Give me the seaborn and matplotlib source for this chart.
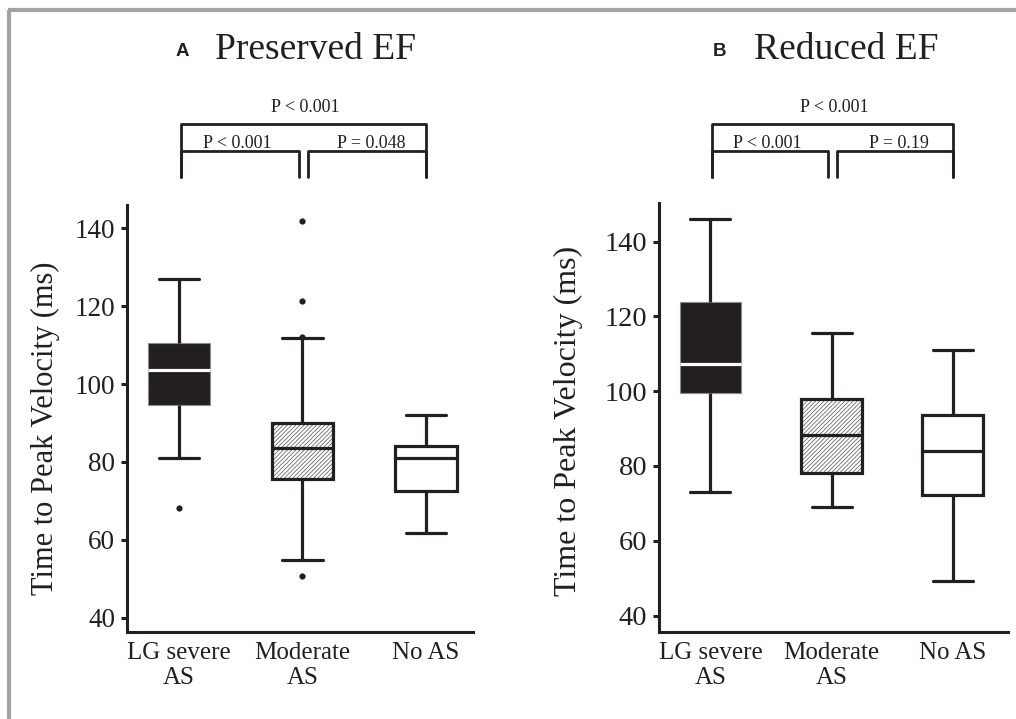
import pandas as pd
import matplotlib.pyplot as plt
import matplotlib.transforms as mtransforms
from matplotlib.lines import Line2D
from matplotlib.patches import PathPatch
import seaborn as sns

groups = ["LG severe\nAS", "Moderate\nAS", "No AS"]

# Preserved EF: whisker low, Q1, median, Q3, whisker high (ms)
pres_low = [81.1, 54.8, 61.7]
pres_q1 = [94.6, 75.6, 72.5]
pres_med = [103.7, 83.5, 81.1]
pres_q3 = [110.5, 89.9, 84.1]
pres_high = [127.0, 111.8, 92.0]
pres_out_group = ["LG severe\nAS", "Moderate\nAS", "Moderate\nAS", "Moderate\nAS", "Moderate\nAS"]
pres_out_val = [68.1, 141.9, 121.4, 112.2, 50.6]

# Reduced EF
red_low = [73.1, 69.0, 49.2]
red_q1 = [99.5, 78.2, 72.2]
red_med = [107.3, 88.4, 84.0]
red_q3 = [123.8, 98.0, 93.7]
red_high = [146.1, 115.6, 111.1]
red_out_group = []
red_out_val = []

titles = ["Preserved EF", "Reduced EF"]
letters = ["A", "B"]
p_all = ["P < 0.001", "P < 0.001"]
p_left = ["P < 0.001", "P < 0.001"]
p_right = ["P = 0.048", "P = 0.19"]

ink = "#231f20"
box_fill = ["#231f20", "white", "white"]

W, H = 1016, 719


def fx(px):
    return px / W


def fy(py):
    return 1 - py / H


def five_num(low, q1, med, q3, high):
    rows = []
    for g, vals in zip(groups, zip(low, q1, med, q3, high)):
        for v in vals:
            rows.append({"group": g, "value": v})
    return pd.DataFrame(rows)


sns.set_theme(style="ticks")
plt.rcParams["font.family"] = ["Liberation Serif", "DejaVu Serif"]
plt.rcParams["hatch.linewidth"] = 0.55

fig = plt.figure(figsize=(W / 100, H / 100), dpi=100)
fig.patch.set_facecolor("white")

panels = [
    dict(rect=[fx(127), fy(632), (473 - 127) / W, (632 - 205) / H],
         box=five_num(pres_low, pres_q1, pres_med, pres_q3, pres_high),
         out=pd.DataFrame({"group": pres_out_group, "value": pres_out_val}),
         ylim=(36.3, 146.0), xlim=(-0.42, 2.38), tick_fs=19.5, label_fs=22,
         label_xy=(-0.194, 0.476), title_x=215, letter_x=182),
    dict(rect=[fx(659), fy(632), (1008 - 659) / W, (632 - 203) / H],
         box=five_num(red_low, red_q1, red_med, red_q3, red_high),
         out=pd.DataFrame({"group": red_out_group, "value": red_out_val}),
         ylim=(35.6, 150.3), xlim=(-0.425, 2.457), tick_fs=20.5, label_fs=23,
         label_xy=(-0.218, 0.492), title_x=754, letter_x=720),
]

for i, p in enumerate(panels):
    ax = fig.add_axes(p["rect"])
    sns.boxplot(data=p["box"], x="group", y="value", hue="group",
                order=groups, hue_order=groups, palette=box_fill, saturation=1,
                width=0.5, whis=(0, 100), linewidth=2.3, linecolor=ink,
                showfliers=False, capwidths=0.33, legend=False, ax=ax)

    conts = list(ax.containers)
    # black box: light thin edge, white median
    conts[0].boxes[0].set_edgecolor("#8c8c8c")
    conts[0].boxes[0].set_linewidth(0.8)
    conts[0].medians[0].set_color("white")
    # hatched box
    hb = conts[1].boxes[0]
    hatch = PathPatch(hb.get_path(), transform=hb.get_transform(),
                      facecolor="white", edgecolor="#5e5e5e", hatch="////////",
                      linewidth=0, zorder=hb.get_zorder() - 0.01)
    ax.add_patch(hatch)
    hb.set_facecolor("none")

    if len(p["out"]):
        sns.stripplot(data=p["out"], x="group", y="value", order=groups,
                      jitter=False, color=ink, size=4.5, linewidth=0, ax=ax)

    ax.set_xlim(*p["xlim"])
    ax.set_ylim(*p["ylim"])
    ax.set_yticks([40, 60, 80, 100, 120, 140])
    ax.set_xlabel("")
    ax.set_ylabel("Time to Peak Velocity (ms)", fontsize=p["label_fs"], color=ink)
    ax.yaxis.set_label_coords(*p["label_xy"])
    sns.despine(ax=ax)
    for s in ["left", "bottom"]:
        ax.spines[s].set_linewidth(2.2)
        ax.spines[s].set_color(ink)
    ax.tick_params(axis="y", length=4, width=2.2, color=ink, labelcolor=ink,
                   labelsize=p["tick_fs"], pad=4.5)
    ax.tick_params(axis="x", length=0, labelcolor=ink, labelsize=18, pad=7)

    # significance brackets (x in data units, y in figure units)
    tr = mtransforms.blended_transform_factory(ax.transData, fig.transFigure)
    y_top, y_mid, y_end = fy(124.3), fy(151), fy(176.7)
    lw = 2.0
    ax.add_line(Line2D([0.015, 0.015, 2.0, 2.0], [y_end, y_top, y_top, y_end],
                       transform=tr, color=ink, lw=lw, clip_on=False))
    ax.add_line(Line2D([0.015, 0.015, 0.97, 0.97], [y_end, y_mid, y_mid, y_end],
                       transform=tr, color=ink, lw=lw, clip_on=False))
    ax.add_line(Line2D([1.045, 1.045, 2.0, 2.0], [y_end, y_mid, y_mid, y_end],
                       transform=tr, color=ink, lw=lw, clip_on=False))
    ax.text(1.02, fy(111.5), p_all[i], transform=tr, ha="center", va="baseline",
            fontsize=13, color=ink)
    ax.text(0.47, fy(148.3), p_left[i], transform=tr, ha="center", va="baseline",
            fontsize=13, color=ink)
    ax.text(1.56, fy(148.3), p_right[i], transform=tr, ha="center", va="baseline",
            fontsize=13, color=ink)

    fig.text(fx(p["letter_x"]), fy(55.5), letters[i], ha="center", va="baseline",
             fontsize=13.5, fontweight="bold", family=["Liberation Sans", "DejaVu Sans"],
             color=ink)
    fig.text(fx(p["title_x"]), fy(59.3), titles[i], ha="left", va="baseline",
             fontsize=27, color=ink)

# grey frame on the left and top edges
fig.add_artist(Line2D([fx(9), fx(9)], [0, fy(10)], color="#a3a3a3", lw=3,
                      transform=fig.transFigure, solid_capstyle="butt"))
fig.add_artist(Line2D([fx(7.5), 1], [fy(10), fy(10)], color="#a3a3a3", lw=3,
                      transform=fig.transFigure, solid_capstyle="butt"))

fig.savefig("out.png", dpi=100, facecolor="white")
